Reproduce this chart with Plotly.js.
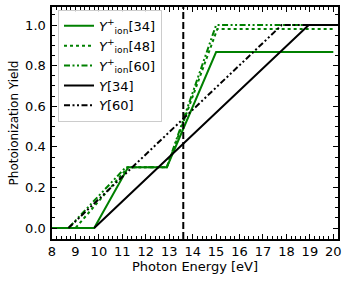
<!DOCTYPE html>
<html>
<head>
<meta charset="utf-8">
<script src="https://cdn.plot.ly/plotly-3.0.1.min.js"></script>
<style>html,body{margin:0;padding:0;background:#fff;}#chart{width:347px;height:282px;}</style>
</head>
<body>
<div id="chart"></div>
<script>
// Y+ion[34]
const ion34X = [8, 9.8, 11.25, 12.9, 15.0, 20.0];
const ion34Y = [0, 0, 0.30, 0.30, 0.867, 0.867];
// Y+ion[48]
const ion48X = [8, 9.0, 11.25, 12.9, 15.05, 20.0];
const ion48Y = [0, 0, 0.30, 0.30, 0.98, 0.98];
// Y+ion[60]
const ion60X = [8, 8.7, 11.15, 12.9, 15.0, 20.0];
const ion60Y = [0, 0, 0.30, 0.30, 1.0, 1.0];
// Y[34]
const y34X = [9.8, 18.95, 20.2];
const y34Y = [0, 1.0, 1.0];
// Y[60]
const y60X = [8.7, 17.8, 20.2];
const y60Y = [0, 1.0, 1.0];
// vertical marker
const markerX = 13.6;
const names = ['<i>Y</i><sup>+</sup><sub>ion</sub>[34]', '<i>Y</i><sup>+</sup><sub>ion</sub>[48]',
  '<i>Y</i><sup>+</sup><sub>ion</sub>[60]', '<i>Y</i>[34]', '<i>Y</i>[60]'];

const green = '#008000';
const dashdotdot = '6px,2.5px,2px,2.5px,2px,2.5px';
const traces = [
  {x: ion34X, y: ion34Y, name: names[0], mode: 'lines', line: {color: green, width: 2}},
  {x: ion48X, y: ion48Y, name: names[1], mode: 'lines', line: {color: green, width: 2, dash: 'dot'}},
  {x: ion60X, y: ion60Y, name: names[2], mode: 'lines', line: {color: green, width: 2, dash: dashdotdot}},
  {x: y34X, y: y34Y, name: names[3], mode: 'lines', line: {color: 'black', width: 2}},
  {x: y60X, y: y60Y, name: names[4], mode: 'lines', line: {color: 'black', width: 2, dash: dashdotdot}}
];
const font = {family: 'DejaVu Sans', size: 13, color: 'black'};
const axisCommon = {
  showgrid: false, zeroline: false, showline: true, linecolor: 'black', linewidth: 1.6,
  mirror: 'allticks', ticks: 'inside', ticklen: 5, tickwidth: 1, tickcolor: 'black',
  tickfont: {family: 'DejaVu Sans', size: 13, color: 'black'}
};
const layout = {
  width: 347, height: 282,
  margin: {l: 52, r: 9, t: 7, b: 43},
  paper_bgcolor: 'white', plot_bgcolor: 'white',
  font: font,
  showlegend: true,
  legend: {x: 0.021, y: 0.988, xanchor: 'left', yanchor: 'top',
    bgcolor: 'rgba(255,255,255,0.85)', bordercolor: '#cccccc', borderwidth: 1,
    font: {family: 'DejaVu Sans', size: 13, color: 'black'}, tracegroupgap: 0, itemwidth: 30},
  xaxis: Object.assign({}, axisCommon, {
    range: [8, 20.2], dtick: 1, tick0: 8, ticklabelstandoff: 0,
    minor: {dtick: 0.2, ticks: 'inside', ticklen: 3, tickcolor: 'black', tickwidth: 1},
    title: {text: 'Photon Energy [eV]', font: {family: 'DejaVu Sans', size: 13, color: 'black'}, standoff: 1}
  }),
  yaxis: Object.assign({}, axisCommon, {
    range: [-0.054, 1.089], dtick: 0.2, tick0: 0, tickformat: '.1f', ticklabelstandoff: 2,
    minor: {dtick: 0.05, ticks: 'inside', ticklen: 3, tickcolor: 'black', tickwidth: 1},
    title: {text: 'Photoionization Yield', font: {family: 'DejaVu Sans', size: 12, color: 'black'}, standoff: 4}
  }),
  shapes: [{type: 'line', xref: 'x', yref: 'paper', x0: markerX, x1: markerX, y0: 0, y1: 1,
    line: {color: 'black', width: 2, dash: '7px,3px'}}]
};
Plotly.newPlot('chart', traces, layout, {displayModeBar: false, staticPlot: true});
</script>
</body>
</html>
